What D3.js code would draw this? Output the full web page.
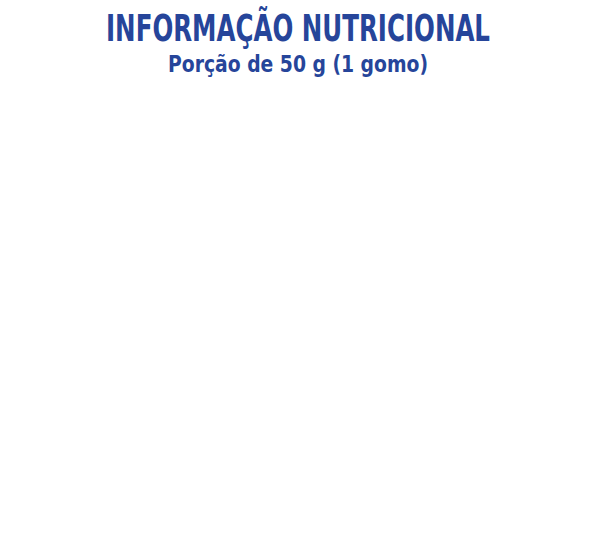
<!DOCTYPE html>
<html>
<head>
<meta charset="utf-8">
<script src="https://cdn.jsdelivr.net/npm/d3@7"></script>
<style>body{margin:0;background:#fff}</style>
</head>
<body>
<script>
var titleLines = ["INFORMAÇÃO NUTRICIONAL", "Porção de 50 g (1 gomo)"];
var lineSizes = [37, 23];
var lineWidths = [384, 260];
var lineBase = [41, 72];

var svg = d3.select("body").append("svg")
    .attr("width", 595)
    .attr("height", 539);

svg.selectAll("text")
    .data(titleLines)
    .enter()
    .append("text")
    .attr("x", function(d, i) { return 298 - lineWidths[i] / 2; })
    .attr("y", function(d, i) { return lineBase[i]; })
    .attr("textLength", function(d, i) { return lineWidths[i]; })
    .attr("lengthAdjust", "spacingAndGlyphs")
    .style("font-family", "'Liberation Sans Narrow', 'DejaVu Sans Condensed', sans-serif")
    .style("font-weight", "bold")
    .style("font-size", function(d, i) { return lineSizes[i] + "px"; })
    .style("fill", "#26459a")
    .text(function(d) { return d; });
</script>
</body>
</html>
